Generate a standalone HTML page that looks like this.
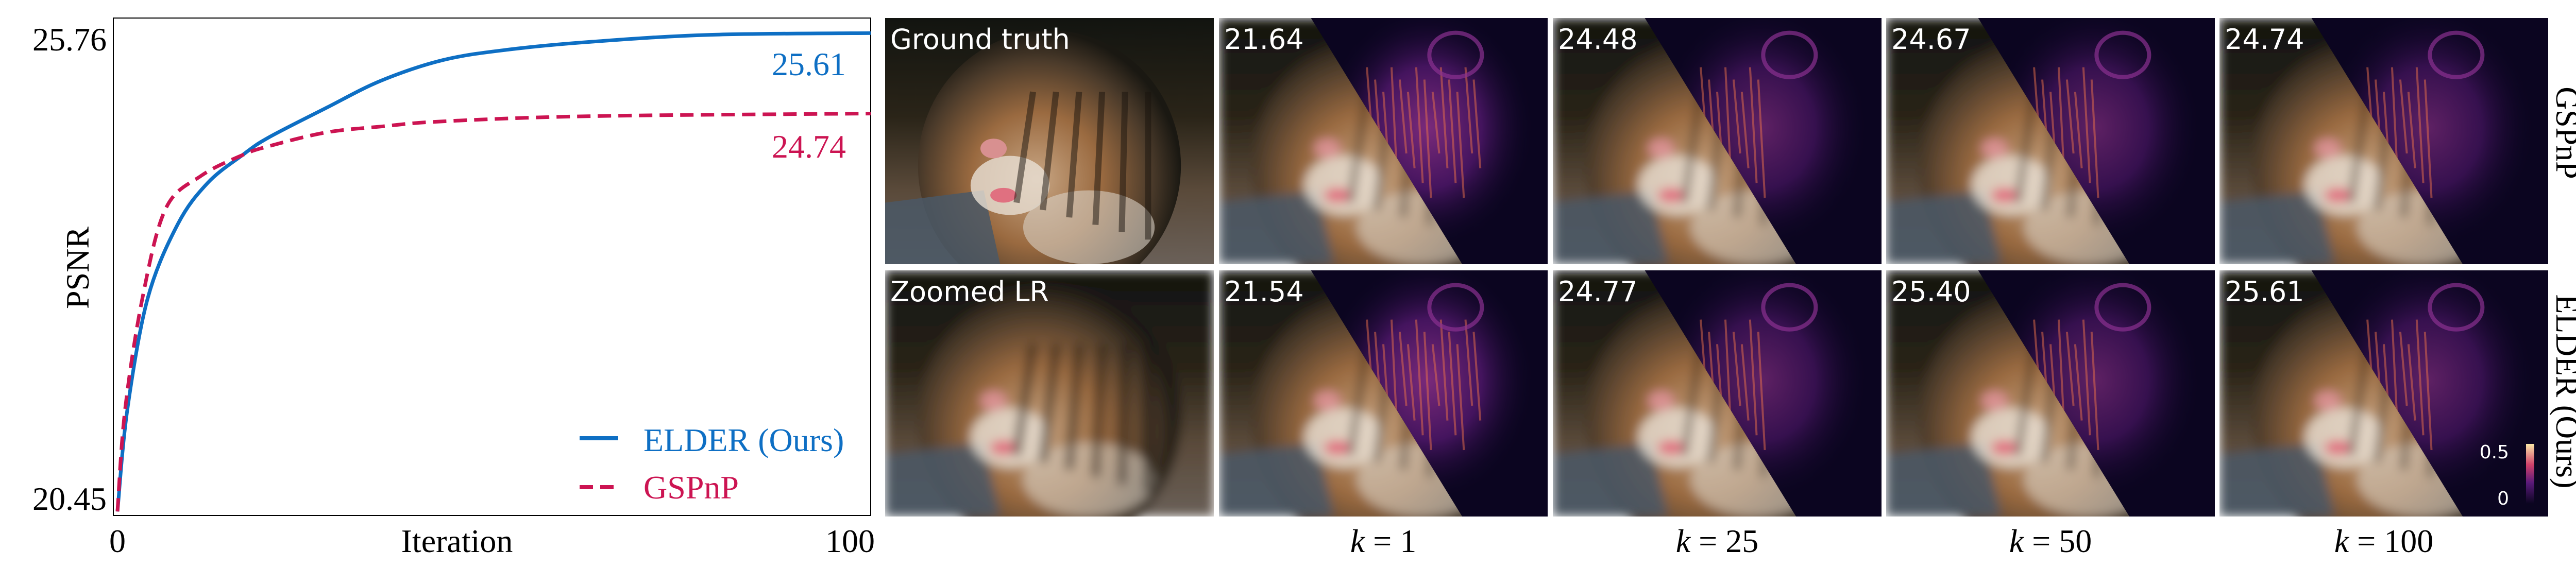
<!DOCTYPE html>
<html><head><meta charset="utf-8"><style>
html,body{margin:0;padding:0;background:#fff;overflow:hidden;width:5060px;height:1136px}
svg{display:block}
.serif{font-family:"Liberation Serif",serif}
.sans{font-family:"DejaVu Sans","Liberation Sans",sans-serif}
</style></head><body>
<svg id="fig" width="5060" height="1136" viewBox="0 0 5060 1136" xmlns="http://www.w3.org/2000/svg">
<defs>
<radialGradient id="tigerBody" cx="0.45" cy="0.55" r="0.55">
<stop offset="0" stop-color="#c8a684"/><stop offset="0.45" stop-color="#9a6a40"/><stop offset="0.8" stop-color="#4a3a2a"/><stop offset="1" stop-color="#1a1812"/>
</radialGradient>
<linearGradient id="bgTop" x1="0" y1="0" x2="0" y2="1">
<stop offset="0" stop-color="#121410"/><stop offset="0.4" stop-color="#2a2418"/><stop offset="0.7" stop-color="#5a4a3a"/><stop offset="1" stop-color="#6a6058"/>
</linearGradient>
<radialGradient id="errGlow" cx="0.55" cy="0.45" r="0.45">
<stop offset="0" stop-color="#7a2a7a"/><stop offset="0.5" stop-color="#44145e"/><stop offset="1" stop-color="#0b0520" stop-opacity="0"/>
</radialGradient>
<linearGradient id="cbar" x1="0" y1="1" x2="0" y2="0">
<stop offset="0" stop-color="#0b0520"/><stop offset="0.35" stop-color="#5a1a7a"/><stop offset="0.65" stop-color="#d0406a"/><stop offset="1" stop-color="#fce8a8"/>
</linearGradient>
<filter id="blur8"><feGaussianBlur stdDeviation="10"/></filter>
</defs>
<g id="chart"></g>
<g id="tiles"></g>
</svg>
<script>
const iterElder=[0,1.3,4,8,12,16.6,20,27.6,35,43.3,52,63,78.7,100];
const psnrElder=[20.3,21.47,22.76,23.62,24.1,24.42,24.62,24.96,25.28,25.52,25.64,25.73,25.81,25.83];
const iterGspnp=[0,1,3.3,6.4,11.1,16.6,20,27.6,35,43.3,63,100];
const psnrGspnp=[20.3,21.47,22.76,23.8,24.18,24.42,24.52,24.68,24.75,24.81,24.87,24.9];
const yTicks=[25.76,20.45];
const xTicks=[0,100];
const tileScoresTop=["21.64","24.48","24.67","24.74"];
const tileScoresBottom=["21.54","24.77","25.40","25.61"];
const kLabels=["1","25","50","100"];

const NS="http://www.w3.org/2000/svg";
function mk(tag,attrs,parent,text){const e=document.createElementNS(NS,tag);for(const k in attrs)e.setAttribute(k,attrs[k]);if(text!==undefined)e.textContent=text;parent.appendChild(e);return e;}
const chart=document.getElementById('chart');
const X0=228,X1=1690,Y0=35,Y1=1001;
const xs=v=>X0+(v-0)/100*(X1-X0);
const ys=v=>76+(25.76-v)*168;

let frame=mk('rect',{x:220,y:Y0,width:X1-220,height:Y1-Y0,fill:'none',stroke:'#000','stroke-width':2},chart);



yTicks.forEach(t=>{const e=mk('text',{x:207,y:ys(t)+22,'text-anchor':'end','font-size':64,class:'serif'},chart,t.toFixed(2));

});
xTicks.forEach(t=>{const e=mk('text',{x:xs(t)+(t===100?-40:0),y:1072,'text-anchor':'middle','font-size':64,class:'serif'},chart,String(t));

});
let xt=mk('text',{x:887,y:1072,'text-anchor':'middle','font-size':64,class:'serif'},chart,'Iteration');


let yt=mk('text',{x:0,y:0,'text-anchor':'middle','font-size':64,class:'serif',transform:'translate(172,520) rotate(-90)'},chart,'PSNR');



function smoothPath(xa,ya){const p=xa.map((x,i)=>[xs(x),ys(ya[i])]);let d='M'+p[0][0]+','+p[0][1];
for(let i=0;i<p.length-1;i++){const p0=p[Math.max(0,i-1)],p1=p[i],p2=p[i+1],p3=p[Math.min(p.length-1,i+2)];
const c1=[p1[0]+(p2[0]-p0[0])/6,p1[1]+(p2[1]-p0[1])/6],c2=[p2[0]-(p3[0]-p1[0])/6,p2[1]-(p3[1]-p1[1])/6];
d+=` C${c1[0]},${c1[1]} ${c2[0]},${c2[1]} ${p2[0]},${p2[1]}`;}return d;}
const clipG=mk('g',{},chart);
let lb=mk('path',{d:smoothPath(iterElder,psnrElder),fill:'none',stroke:'#0e6fc4','stroke-width':7},clipG);


let lr=mk('path',{d:smoothPath(iterGspnp,psnrGspnp),fill:'none',stroke:'#cc1452','stroke-width':7,'stroke-dasharray':'26 14'},clipG);


let a1=mk('text',{x:1642,y:146,'text-anchor':'end','font-size':64,fill:'#0e6fc4',class:'serif'},chart,'25.61');


let a2=mk('text',{x:1642,y:306,'text-anchor':'end','font-size':64,fill:'#cc1452',class:'serif'},chart,'24.74');


let lg=mk('g',{},chart);


mk('line',{x1:1125,y1:851,x2:1200,y2:851,stroke:'#0e6fc4','stroke-width':8},lg);
let le1=mk('text',{x:1249,y:876,'font-size':64,fill:'#0e6fc4',class:'serif'},lg,'ELDER (Ours)');


mk('line',{x1:1125,y1:946,x2:1200,y2:946,stroke:'#cc1452','stroke-width':8,'stroke-dasharray':'26 14'},lg);
let le2=mk('text',{x:1249,y:968,'font-size':64,fill:'#cc1452',class:'serif'},lg,'GSPnP');



const tiles=document.getElementById('tiles');
const TX=[1718,2366,3014,3661,4308],TW=638,TYs=[35,525],TH=478;
let cid=0;
function tigerImg(g,x,y,blur,pix){
  const gg=mk('g',{filter:blur?'url(#blur8)':''},g);
  mk('rect',{x:x,y:y,width:TW,height:TH,fill:'url(#bgTop)'},gg);
  mk('ellipse',{cx:x+TW*0.5,cy:y+TH*0.6,rx:TW*0.4,ry:TH*0.55,fill:'url(#tigerBody)'},gg);
  mk('path',{d:`M${x},${y+TH*0.75} L${x+TW*0.3},${y+TH*0.7} L${x+TW*0.35},${y+TH} L${x},${y+TH}Z`,fill:'#4a5866',opacity:0.85},gg);
  mk('ellipse',{cx:x+TW*0.38,cy:y+TH*0.68,rx:TW*0.12,ry:TH*0.12,fill:'#e8e0d4',opacity:0.8},gg);
  mk('ellipse',{cx:x+TW*0.62,cy:y+TH*0.85,rx:TW*0.2,ry:TH*0.15,fill:'#d8d0c4',opacity:0.6},gg);
  mk('ellipse',{cx:x+TW*0.33,cy:y+TH*0.53,rx:TW*0.04,ry:TH*0.04,fill:'#d89090'},gg);
  mk('ellipse',{cx:x+TW*0.36,cy:y+TH*0.72,rx:TW*0.04,ry:TH*0.03,fill:'#e07080'},gg);
  for(let i=0;i<6;i++){mk('line',{x1:x+TW*(0.45+i*0.07),y1:y+TH*0.3,x2:x+TW*(0.4+i*0.08),y2:y+TH*(0.75+i*0.03),stroke:'#1a140e','stroke-width':pix?18:12,opacity:0.5},gg);}
}
for(let r=0;r<2;r++){for(let c=0;c<5;c++){
  const x=TX[c],y=TYs[r];
  const g=mk('g',{},tiles);
  
  
  const id='clip'+(cid++);
  const cp=mk('clipPath',{id:id},g);mk('rect',{x:x,y:y,width:TW,height:TH},cp);
  const inner=mk('g',{'clip-path':`url(#${id})`},g);
  tigerImg(inner,x,y,c>0||r===1,r===1&&c===0);
  if(c>0){
    const id2='tri'+(cid++);
    const cp2=mk('clipPath',{id:id2},g);
    mk('polygon',{points:`${x+TW*0.28},${y} ${x+TW},${y} ${x+TW},${y+TH} ${x+TW*0.74},${y+TH}`},cp2);
    const eg=mk('g',{'clip-path':`url(#${id2})`},inner);
    mk('rect',{x:x,y:y,width:TW,height:TH,fill:'#0b0520'},eg);
    mk('ellipse',{cx:x+TW*0.6,cy:y+TH*0.5,rx:TW*0.36,ry:TH*0.55,fill:'url(#errGlow)',opacity:c===1?1:0.75},eg);
    const n=c===1?14:8;
    for(let i=0;i<n;i++){mk('line',{x1:x+TW*(0.45+i*0.025),y1:y+TH*(0.2+(i%3)*0.05),x2:x+TW*(0.47+i*0.025),y2:y+TH*(0.55+(i%4)*0.06),stroke:'#e8704a','stroke-width':4,opacity:0.5},eg);}
    mk('ellipse',{cx:x+TW*0.72,cy:y+TH*0.15,rx:TW*0.08,ry:TH*0.09,fill:'none',stroke:'#8a3090','stroke-width':8,opacity:0.7},eg);
  }
  const label=c===0?(r===0?'Ground truth':'Zoomed LR'):(r===0?tileScoresTop:tileScoresBottom)[c-1];
  const t=mk('text',{x:x+10,y:y+60,'font-size':54,fill:'#fff',class:'sans'},g,label);
  
  
}}
let cb=mk('rect',{x:4903,y:862,width:16,height:116,fill:'url(#cbar)'},tiles);


let c1=mk('text',{x:4870,y:890,'text-anchor':'end','font-size':36,fill:'#fff',class:'sans'},tiles,'0.5');


let c0=mk('text',{x:4870,y:980,'text-anchor':'end','font-size':36,fill:'#fff',class:'sans'},tiles,'0');


kLabels.forEach((k,i)=>{const cx=TX[i+1]+TW/2;
  const t=mk('text',{x:cx,y:1072,'text-anchor':'middle','font-size':64,class:'serif'},tiles);
  mk('tspan',{'font-style':'italic'},t,'k');mk('tspan',{},t,' = '+k);
  
  });
[['GSPnP',258],['ELDER (Ours)',760]].forEach(([s,cy])=>{
  const t=mk('text',{x:0,y:0,'text-anchor':'middle','font-size':62,class:'serif',transform:`translate(4962,${cy}) rotate(90)`},tiles,s);
  
  });
</script>
</body></html>
